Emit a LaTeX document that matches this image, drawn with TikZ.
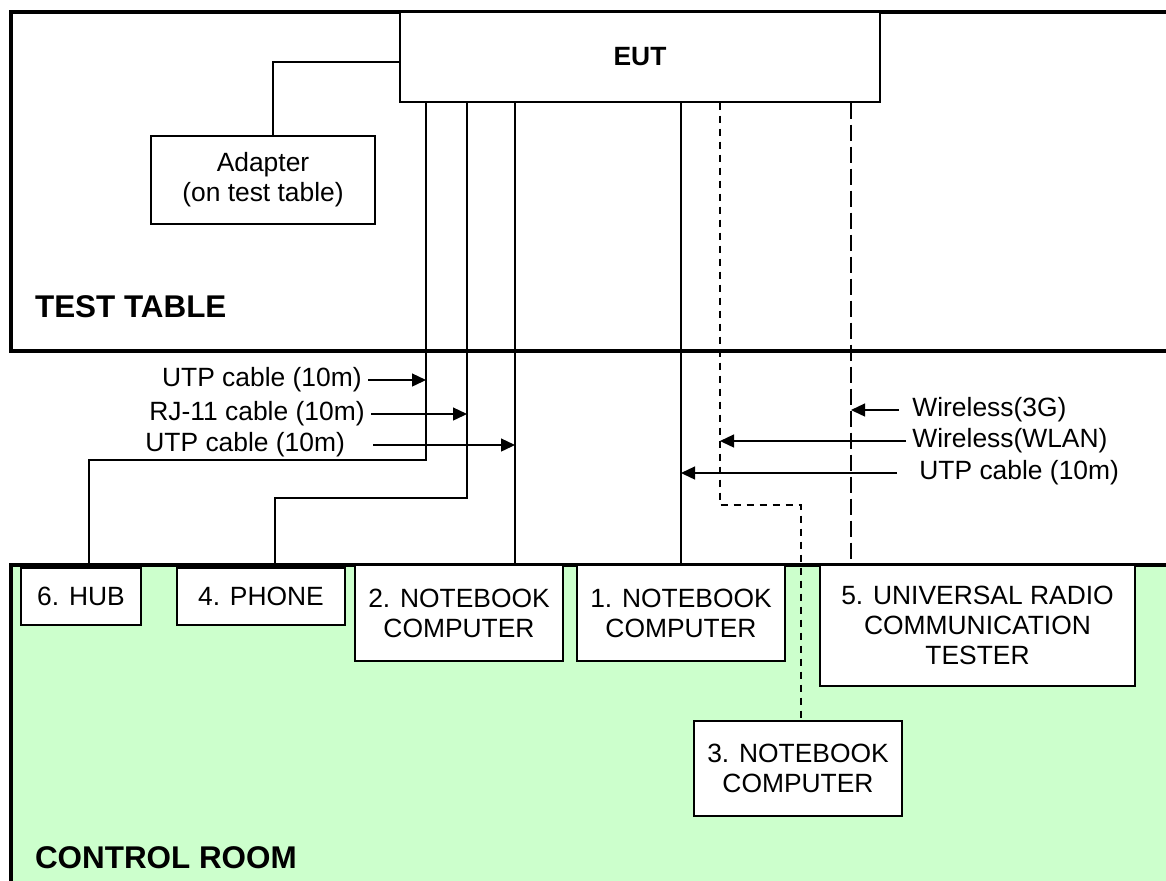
\documentclass[tikz,border=0pt]{standalone}
\usepackage{fontspec}
\setmainfont{Liberation Sans}
\usepackage{tikz}
\usetikzlibrary{arrows.meta}
\usetikzlibrary{positioning}

\definecolor{roomgreen}{HTML}{CCFFCC}

\tikzset{
  unit/.style={draw, fill=white, line width=0.7pt, inner sep=0pt, align=center, font=\fontsize{13.2}{15}\selectfont},
  cablelbl/.style={inner sep=3pt, font=\fontsize{13.2}{15}\selectfont},
  roomtitle/.style={anchor=west, font=\bfseries\fontsize{15.7}{18}\selectfont},
  area/.style={line width=1.7pt},
  cable/.style={line width=0.7pt},
  tip/.style={line width=0.7pt, -{Triangle[length=7pt,width=6.5pt]}},
}

\begin{document}
\begin{tikzpicture}[x=0.5pt, y=-0.5pt]
  \useasboundingbox (0,0) rectangle (1166,880);
  \clip (0,0) rectangle (1166,880);

  % rooms
  \draw [area] (11,12) rectangle (1190,351);
  \draw [area, fill=roomgreen] (11,565) rectangle (1190,900);
  \node [roomtitle] (ttable) at (28,307) {TEST TABLE};
  \node [roomtitle] (croom) at (28,858) {CONTROL ROOM};

  % equipment
  \node [unit, minimum width=240pt, minimum height=45pt, font=\bfseries\fontsize{13.2}{15}\selectfont] (eut) at (640,57) {EUT};
  \node [unit, minimum width=112pt, minimum height=44pt] (adapter) at (263,180) {Adapter\\(on test table)};
  \node [unit, minimum width=60pt, minimum height=28.5pt] (hub) at (81,596.5) {6. HUB};
  \node [unit, minimum width=84pt, minimum height=28.5pt] (phone) at (261,596.5) {4. PHONE};
  \node [unit, minimum width=104pt, minimum height=48pt] (nbtwo) at (459,613) {2. NOTEBOOK\\COMPUTER};
  \node [unit, minimum width=104pt, minimum height=48pt] (nbone) at (681,613) {1. NOTEBOOK\\COMPUTER};
  \node [unit, minimum width=157.5pt, minimum height=60.5pt] (tester) at (977.5,625.5) {5. UNIVERSAL RADIO\\COMMUNICATION\\TESTER};
  \node [unit, minimum width=104pt, minimum height=47.5pt] (nbthree) at (798,768.5) {3. NOTEBOOK\\COMPUTER};

  % cables
  \coordinate (hubbend) at (426,460);
  \coordinate (phonebend) at (467,498);
  \coordinate (nbtwoline) at (515,0);
  \coordinate (wlanbend) at (720,505);
  \coordinate (radioline) at (851,0);

  \draw [cable] ([xshift=5pt]adapter.north) |- ([yshift=-2.5pt]eut.west);
  \draw [cable] (eut.south -| hubbend) -- (hubbend) -| ([xshift=4pt]hub.north);
  \draw [cable] (eut.south -| phonebend) -- (phonebend) -| ([xshift=7pt]phone.north);
  \draw [cable] (eut.south -| nbtwoline) -- (nbtwo.north -| nbtwoline);
  \draw [cable] (eut.south -| nbone.north) -- (nbone.north);
  \draw [cable, dash pattern=on 3.5pt off 3pt] (eut.south -| wlanbend) -- (wlanbend) -| ([xshift=1.5pt]nbthree.north);
  \draw [cable, dash pattern=on 8pt off 3pt] (eut.south -| radioline) -- (tester.north -| radioline);

  % cable labels
  \node [cablelbl, anchor=east] (lutpa) at (368,380) {UTP cable (10m)};
  \node [cablelbl, anchor=east] (lrj) at (371,414) {RJ-11 cable (10m)};
  \node [cablelbl, anchor=west] (lutpb) at (139,445) {UTP cable (10m)};
  \node [cablelbl, anchor=west] (lthreeg) at (906,410) {Wireless(3G)};
  \node [cablelbl, anchor=west] (lwlan) at (906,441) {Wireless(WLAN)};
  \node [cablelbl, anchor=west] (lutpc) at (913,473) {UTP cable (10m)};

  \draw [tip] (lutpa.east) -- (lutpa.east -| hubbend);
  \draw [tip] (lrj.east) -- (lrj.east -| phonebend);
  \draw [tip] ([xshift=11pt]lutpb.east) -- (lutpb.east -| nbtwoline);
  \draw [tip] ([xshift=-3.5pt]lthreeg.west) -- (lthreeg.west -| radioline);
  \draw [tip] (lwlan.west) -- (lwlan.west -| wlanbend);
  \draw [tip] ([xshift=-8pt]lutpc.west) -- (lutpc.west -| nbone.north);
\end{tikzpicture}
\end{document}
